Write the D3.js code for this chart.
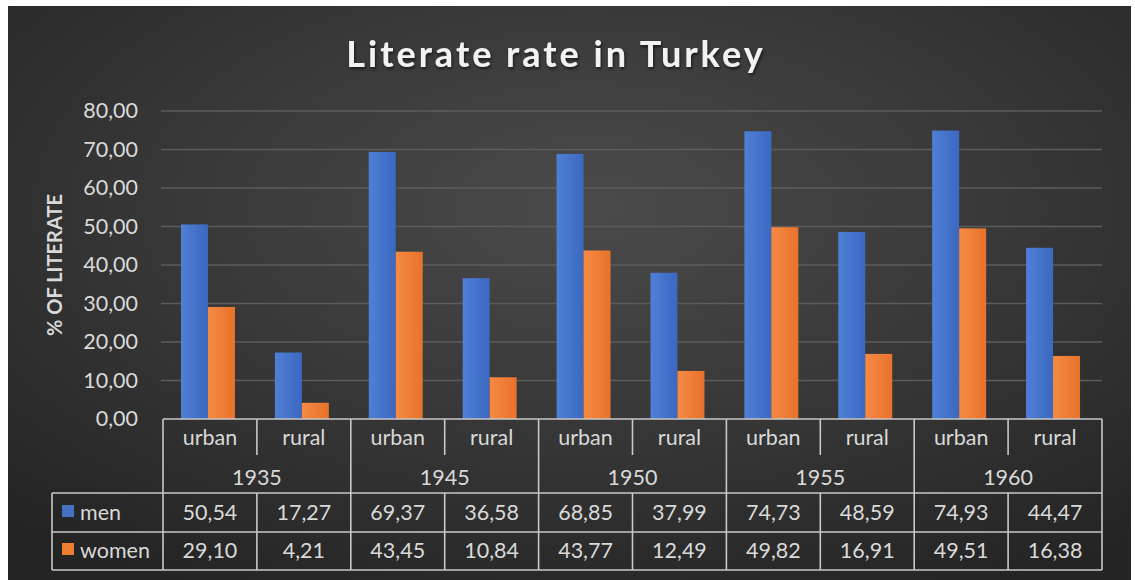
<!DOCTYPE html>
<html><head><meta charset="utf-8">
<script src="https://cdn.jsdelivr.net/npm/d3@7"></script>
<style>html,body{margin:0;padding:0;background:#fff;}svg{display:block;}</style>
</head><body>
<svg id="chart" width="1135" height="580"></svg>
<script>
const years = ["1935", "1945", "1950", "1955", "1960"];
const areas = ["urban", "rural"];
const seriesNames = ["men", "women"];
const men = [50.54, 17.27, 69.37, 36.58, 68.85, 37.99, 74.73, 48.59, 74.93, 44.47];
const women = [29.10, 4.21, 43.45, 10.84, 43.77, 12.49, 49.82, 16.91, 49.51, 16.38];
const yTicks = [0, 10, 20, 30, 40, 50, 60, 70, 80];
const titleText = "Literate rate in Turkey";
const yTitle = "% OF LITERATE";

const colors = {men: "#4472c4", women: "#ed7d31"};
const font = "Lato, 'Open Sans', sans-serif";
const txt = "#d9d9d9";

const loc = d3.formatLocale({decimal: ",", thousands: ".", grouping: [3], currency: ["", ""]});
const fmt = loc.format(".2f");

const svg = d3.select("#chart");
const defs = svg.append("defs");
const bg = defs.append("radialGradient").attr("id", "bg").attr("cx", "52%").attr("cy", "35%").attr("r", "75%");
bg.append("stop").attr("offset", "0%").attr("stop-color", "#4b4b4b");
bg.append("stop").attr("offset", "100%").attr("stop-color", "#242424");
function barGrad(id, c1, c2) {
  const g = defs.append("linearGradient").attr("id", id).attr("x1", 0).attr("x2", 1).attr("y1", 0).attr("y2", 0);
  g.append("stop").attr("offset", "0%").attr("stop-color", c1);
  g.append("stop").attr("offset", "100%").attr("stop-color", c2);
}
barGrad("g-men", "#4f7fd6", "#3b68c0");
barGrad("g-women", "#f58a45", "#e8722a");
const sh = defs.append("filter").attr("id", "shadow").attr("x", "-5%").attr("y", "-20%").attr("width", "110%").attr("height", "140%");
sh.append("feDropShadow").attr("dx", 1).attr("dy", 2).attr("stdDeviation", 1.5).attr("flood-color", "#000").attr("flood-opacity", 0.6);

// panel
svg.append("rect").attr("x", 8).attr("y", 6).attr("width", 1123).attr("height", 574).attr("fill", "url(#bg)");

const plotL = 163, plotR = 1102, plotT = 111, plotB = 419;
const y = d3.scaleLinear().domain([0, 80]).range([plotB, plotT]);
const cols = d3.range(men.length);
const x = d3.scaleBand().domain(cols).range([plotL, plotR]).padding(0);
const xs = d3.scaleBand().domain(seriesNames).range([0, x.bandwidth()]).paddingInner(0).paddingOuter(0.74).align(0.45);
const xYear = d3.scaleBand().domain(years).range([plotL, plotR]).padding(0);

// gridlines
svg.append("g").selectAll("line").data(yTicks.filter(d => d > 0)).join("line")
  .attr("x1", plotL - 2).attr("x2", plotR).attr("y1", d => y(d)).attr("y2", d => y(d))
  .attr("stroke", "#5c5c5c").attr("stroke-width", 1.5);

// y tick labels via axis
const yAxis = svg.append("g").attr("transform", `translate(${plotL},0)`)
  .call(d3.axisLeft(y).tickValues(yTicks).tickFormat(fmt).tickSize(0).tickPadding(25));
yAxis.select(".domain").remove();
yAxis.selectAll("text").attr("fill", txt).attr("font-family", font).attr("font-size", 21.5);

// y title
svg.append("text").attr("transform", `translate(62,265) rotate(-90)`).attr("text-anchor", "middle")
  .attr("fill", txt).attr("font-family", font).attr("font-weight", "bold").attr("font-size", 20).text(yTitle);

// title
svg.append("text").attr("x", 556).attr("y", 67).attr("text-anchor", "middle")
  .attr("fill", "#f2f2f2").attr("font-family", font).attr("font-weight", "bold").attr("font-size", 36)
  .attr("letter-spacing", 3).attr("filter", "url(#shadow)").text(titleText);

// bars
const series = {men, women};
seriesNames.forEach(s => {
  svg.append("g").selectAll("rect").data(series[s]).join("rect")
    .attr("x", (d, i) => x(i) + xs(s)).attr("width", xs.bandwidth())
    .attr("y", d => y(d)).attr("height", d => plotB - y(d))
    .attr("fill", `url(#g-${s})`);
});

// data table
const lineC = "#c8c8c8", lw = 1.6;
const rowCatT = plotB, rowCatMid = 455, rowMenT = 493, rowWomT = 532, rowB = 570, legL = 52;
const tbl = svg.append("g").attr("stroke", lineC).attr("stroke-width", lw).attr("fill", "none");
tbl.append("line").attr("x1", plotL).attr("x2", plotR).attr("y1", rowCatT).attr("y2", rowCatT);
[rowMenT, rowWomT, rowB].forEach(yy => tbl.append("line").attr("x1", legL).attr("x2", plotR).attr("y1", yy).attr("y2", yy));
tbl.append("line").attr("x1", legL).attr("x2", legL).attr("y1", rowMenT).attr("y2", rowB);
cols.concat([cols.length]).forEach(i => {
  const xx = i < cols.length ? x(i) : plotR;
  const full = i % 2 === 0;
  tbl.append("line").attr("x1", xx).attr("x2", xx)
    .attr("y1", rowCatT).attr("y2", full ? rowB : rowCatMid);
  if (!full) tbl.append("line").attr("x1", xx).attr("x2", xx).attr("y1", rowMenT).attr("y2", rowB);
});

const tg = svg.append("g").attr("fill", txt).attr("font-family", font).attr("font-size", 21.5).attr("text-anchor", "middle");
tg.selectAll("text.area").data(cols).join("text").attr("class", "area")
  .attr("x", i => x(i) + x.bandwidth() / 2).attr("y", 445).text(i => areas[i % 2]);
svg.append("g").attr("fill", txt).attr("font-family", font).attr("font-size", 21.5).attr("text-anchor", "middle")
  .selectAll("text").data(years).join("text")
  .attr("x", d => xYear(d) + xYear.bandwidth() / 2).attr("y", 485).text(d => d);
const rowsY = {men: 520, women: 558};
seriesNames.forEach(s => {
  svg.append("g").attr("fill", txt).attr("font-family", font).attr("font-size", 21.5).attr("text-anchor", "middle")
    .selectAll("text").data(series[s]).join("text")
    .attr("x", (d, i) => x(i) + x.bandwidth() / 2).attr("y", rowsY[s]).text(d => fmt(d));
  svg.append("rect").attr("x", 62).attr("y", rowsY[s] - 15).attr("width", 12).attr("height", 12).attr("fill", colors[s]);
  svg.append("text").attr("x", 80).attr("y", rowsY[s]).attr("fill", txt).attr("font-family", font).attr("font-size", 21.5).text(s);
});
</script>
</body></html>
